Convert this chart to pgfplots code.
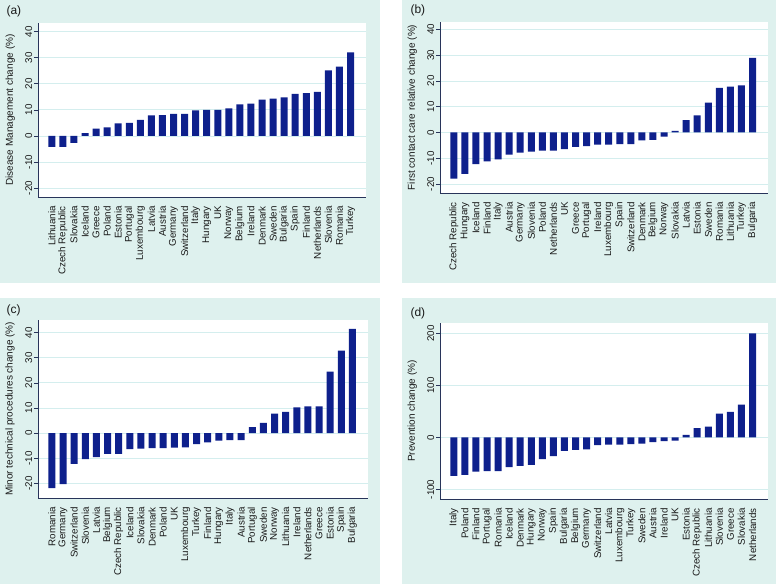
\documentclass[border=0pt]{standalone}
\usepackage{fontspec}
\setmainfont{Liberation Sans}
\usepackage{pgfplots}
\pgfplotsset{compat=1.18}
\definecolor{panelbg}{RGB}{222,241,238}
\definecolor{barblue}{RGB}{14,32,140}
\definecolor{gridc}{RGB}{212,238,238}
\definecolor{axc}{RGB}{40,52,90}
\definecolor{txt}{RGB}{25,25,25}
\pgfplotsset{
  panel/.style={
    scale only axis, anchor=south west,
    axis x line*=bottom, axis y line*=left,
    axis line style={axc, line width=0.9pt},
    axis background/.style={fill=white},
    ybar, bar width=7pt,
    xmin=-0.25, xmax=29.4,
    xtick={1,...,28}, xtick style={draw=none},
    xticklabel style={rotate=90, anchor=east, font=\fontsize{9.8}{10}\selectfont, inner sep=0pt, text=txt},
    xticklabel shift=5pt,
    yticklabel style={rotate=90, anchor=south, font=\fontsize{9.8}{10}\selectfont, inner sep=0pt, text=txt},
    yticklabel shift=1.5pt,
    ytick style={axc, line width=0.6pt}, tick align=outside, major tick length=4pt,
    ymajorgrids, grid style={gridc, line width=0.9pt},
    /pgf/number format/assume math mode=true,
    every axis y label/.style={at={(axis description cs:-0.07,0.5)}, rotate=90, anchor=south, inner sep=0pt, font=\fontsize{10}{11}\selectfont, text=txt},
  }
}
\begin{document}
\begin{tikzpicture}
\useasboundingbox (0pt,0pt) rectangle (776pt,584pt);
\fill[white] (0pt,0pt) rectangle (776pt,584pt);
\fill[panelbg] (0pt,301pt) rectangle (380pt,584pt);
\fill[panelbg] (402pt,301pt) rectangle (776pt,584pt);
\fill[panelbg] (0pt,0pt) rectangle (380pt,286pt);
\fill[panelbg] (402pt,0pt) rectangle (776pt,286pt);
\node[anchor=west, font=\fontsize{12}{13}\selectfont, text=txt] at (3pt,573pt) {(a)};
\node[anchor=west, font=\fontsize{12}{13}\selectfont, text=txt] at (407pt,574pt) {(b)};
\node[anchor=west, font=\fontsize{12}{13}\selectfont, text=txt] at (3pt,274pt) {(c)};
\node[anchor=west, font=\fontsize{12}{13}\selectfont, text=txt] at (407pt,271pt) {(d)};

% (a)
\begin{axis}[panel, at={(38pt,387pt)}, width=328pt, height=174pt,
  ymin=-23.4, ymax=43.3, ytick={-20,-10,0,10,20,30,40},
  ylabel={Disease Management change (\%)},
  xticklabels={Lithuania,Czech Republic,Slovakia,Iceland,Greece,Poland,Estonia,Portugal,Luxembourg,Latvia,Austria,Germany,Switzerland,Italy,Hungary,UK,Norway,Belgium,Ireland,Denmark,Sweden,Bulgaria,Spain,Finland,Netherlands,Slovenia,Romania,Turkey}]
\addplot[fill=barblue, draw=none] coordinates {
(1,-4.2) (2,-4.2) (3,-2.7) (4,1.1) (5,2.8) (6,3.3) (7,4.8) (8,5.0) (9,6.2) (10,7.9)
(11,8.0) (12,8.5) (13,8.5) (14,9.8) (15,10.0) (16,10.0) (17,10.6) (18,12.1) (19,12.4) (20,13.9)
(21,14.3) (22,14.8) (23,16.1) (24,16.4) (25,16.9) (26,25.1) (27,26.6) (28,32.0)};
\end{axis}

% (b)
\begin{axis}[panel, at={(440pt,391pt)}, width=328pt, height=171pt,
  ymin=-23.5, ymax=42.9, ytick={-20,-10,0,10,20,30,40},
  ylabel={First contact care relative change (\%)},
  xticklabels={Czech Republic,Hungary,Iceland,Finland,Italy,Austria,Germany,Slovenia,Poland,Netherlands,UK,Greece,Portugal,Ireland,Luxembourg,Spain,Switzerland,Denmark,Belgium,Norway,Slovakia,Latvia,Estonia,Sweden,Romania,Lithuania,Turkey,Bulgaria}]
\addplot[fill=barblue, draw=none] coordinates {
(1,-17.9) (2,-16.1) (3,-12.3) (4,-11.2) (5,-10.4) (6,-8.6) (7,-7.8) (8,-7.4) (9,-7.0) (10,-7.0)
(11,-6.5) (12,-5.6) (13,-5.3) (14,-4.7) (15,-4.7) (16,-4.5) (17,-4.5) (18,-3.1) (19,-2.9) (20,-1.6)
(21,0.6) (22,4.8) (23,6.6) (24,11.6) (25,17.3) (26,17.8) (27,18.3) (28,29.0)};
\end{axis}

% (c)
\begin{axis}[panel, at={(38pt,86pt)}, width=330pt, height=178pt,
  ymin=-25.8, ymax=45.0, ytick={-20,-10,0,10,20,30,40},
  ylabel={Minor technical procedures change (\%)},
  xticklabels={Romania,Germany,Switzerland,Slovenia,Latvia,Belgium,Czech Republic,Iceland,Slovakia,Denmark,Poland,UK,Luxembourg,Turkey,Finland,Hungary,Italy,Austria,Portugal,Sweden,Norway,Lithuania,Ireland,Netherlands,Greece,Estonia,Spain,Bulgaria}]
\addplot[fill=barblue, draw=none] coordinates {
(1,-21.9) (2,-20.3) (3,-12.2) (4,-10.3) (5,-9.5) (6,-8.2) (7,-8.2) (8,-6.4) (9,-6.2) (10,-6.0)
(11,-6.0) (12,-5.8) (13,-5.7) (14,-4.4) (15,-3.7) (16,-3.0) (17,-2.8) (18,-2.8) (19,2.4) (20,4.1)
(21,7.8) (22,8.5) (23,10.2) (24,10.6) (25,10.6) (26,24.5) (27,32.8) (28,41.5)};
\end{axis}

% (d)
\begin{axis}[panel, at={(440pt,85pt)}, width=328pt, height=176pt,
  ymin=-118.5, ymax=220, ytick={-100,0,100,200},
  ylabel={Prevention change (\%)},
  xticklabels={Italy,Poland,Finland,Portugal,Romania,Iceland,Denmark,Hungary,Norway,Spain,Bulgaria,Belgium,Germany,Switzerland,Latvia,Luxembourg,Turkey,Sweden,Austria,Ireland,UK,Estonia,Czech Republic,Lithuania,Slovenia,Greece,Slovakia,Netherlands}]
\addplot[fill=barblue, draw=none] coordinates {
(1,-74) (2,-72) (3,-66) (4,-65) (5,-65) (6,-57) (7,-55) (8,-53) (9,-42) (10,-36)
(11,-26) (12,-24) (13,-23) (14,-15) (15,-14) (16,-14) (17,-13) (18,-12) (19,-9) (20,-7)
(21,-6) (22,5) (23,18) (24,20.5) (25,45.5) (26,49) (27,63) (28,200)};
\end{axis}
\end{tikzpicture}
\end{document}
